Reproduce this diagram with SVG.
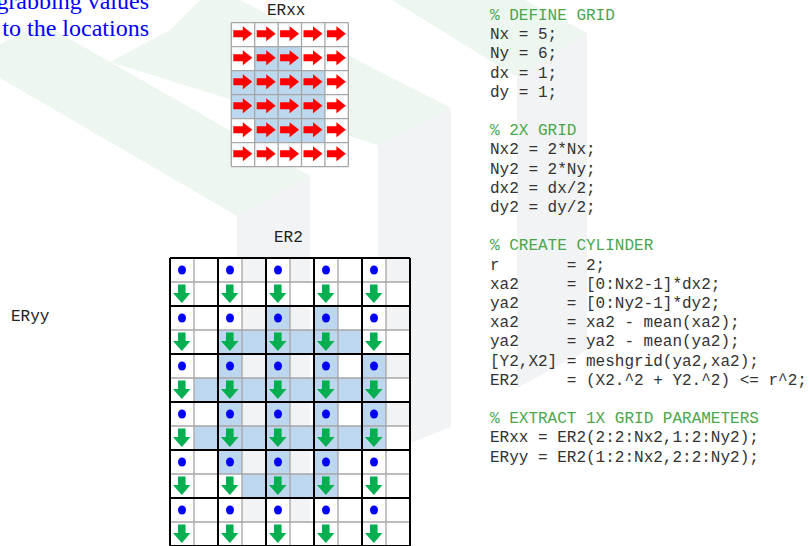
<svg xmlns="http://www.w3.org/2000/svg" width="809" height="546" viewBox="0 0 809 546">
<defs>
<style>
.wmg{fill:#EEF6F0}
.wms{fill:#F2F3F5}
.wc{fill:#FFFFFF}
.on{fill:#BDD7EE}
.gl{stroke:#A6A6A6;stroke-width:1.3;fill:none}
.bl{stroke:#000000;stroke-width:2;fill:none}
.lbl{font-family:"Liberation Mono","Courier New",monospace;font-size:16px;fill:#222222}
.code{font-family:"Liberation Mono","Courier New",monospace;font-size:16px;fill:#333333}
.cm{fill:#4CA64C}
.title{font-family:"Liberation Serif","Times New Roman",serif;font-size:24px;fill:#0000FF}
</style>
<path id="ra" d="M2,7.5 H11.5 V3.5 L21,11 L11.5,18.5 V14.5 H2 Z" fill="#FF0000"/>
<path id="da" d="M8,2.5 H15.6 V11 H20.5 L11.8,21 L3,11 H8 Z" fill="#00B050"/>
<ellipse id="dot" cx="12" cy="12" rx="4" ry="4.5" fill="#0000FF"/>
</defs>
<rect width="809" height="546" fill="#FFFFFF"/>
<g id="watermark">
<polygon class="wmg" points="0,44 0,78 237,216 310,176 42,23"/>
<polygon class="wmg" points="110,62 378,145 451,108 240,0 200,0 170,30"/>
<polygon class="wmg" points="392,0 517,77 587,33 525,0"/>
<polygon class="wms" points="237,216 310,176 310,546 237,546"/>
<polygon class="wms" points="378,145 451,108 451,427 378,456"/>
<polygon class="wms" points="517,77 587,33 587,350 517,388"/>
</g>
<g id="title">
<text class="title" x="149" y="9" text-anchor="end">grabbing values</text>
<text class="title" x="149" y="36" text-anchor="end">to the locations</text>
</g>
<g id="ERxx">
<text class="lbl" x="267" y="15">ERxx</text>
<g transform="translate(231.3,22.7)">
<rect class="wc" x="0" y="0" width="117" height="144"/>
<rect class="on" x="23.4" y="24" width="46.8" height="24"/>
<rect class="on" x="0" y="48" width="93.6" height="48"/>
<rect class="on" x="23.4" y="96" width="70.2" height="24"/>
<path class="gl" d="M0,0V144M23.4,0V144M46.8,0V144M70.2,0V144M93.6,0V144M117,0V144M0,0H117M0,24H117M0,48H117M0,72H117M0,96H117M0,120H117M0,144H117"/>
<use href="#ra" x="0" y="0"/><use href="#ra" x="23.4" y="0"/><use href="#ra" x="46.8" y="0"/><use href="#ra" x="70.2" y="0"/><use href="#ra" x="93.6" y="0"/>
<use href="#ra" x="0" y="24"/><use href="#ra" x="23.4" y="24"/><use href="#ra" x="46.8" y="24"/><use href="#ra" x="70.2" y="24"/><use href="#ra" x="93.6" y="24"/>
<use href="#ra" x="0" y="48"/><use href="#ra" x="23.4" y="48"/><use href="#ra" x="46.8" y="48"/><use href="#ra" x="70.2" y="48"/><use href="#ra" x="93.6" y="48"/>
<use href="#ra" x="0" y="72"/><use href="#ra" x="23.4" y="72"/><use href="#ra" x="46.8" y="72"/><use href="#ra" x="70.2" y="72"/><use href="#ra" x="93.6" y="72"/>
<use href="#ra" x="0" y="96"/><use href="#ra" x="23.4" y="96"/><use href="#ra" x="46.8" y="96"/><use href="#ra" x="70.2" y="96"/><use href="#ra" x="93.6" y="96"/>
<use href="#ra" x="0" y="120"/><use href="#ra" x="23.4" y="120"/><use href="#ra" x="46.8" y="120"/><use href="#ra" x="70.2" y="120"/><use href="#ra" x="93.6" y="120"/>
</g>
</g>
<g id="ERyy">
<text class="lbl" x="11" y="321">ERyy</text>
</g>
<g id="ER2">
<text class="lbl" x="274" y="242">ER2</text>
<g transform="translate(170,258)">
<rect class="wc" x="0" y="0" width="24" height="24"/><rect class="wc" x="48" y="0" width="24" height="24"/><rect class="wc" x="96" y="0" width="24" height="24"/><rect class="wc" x="144" y="0" width="24" height="24"/><rect class="wc" x="192" y="0" width="24" height="24"/>
<rect class="wc" x="0" y="24" width="240" height="24"/>
<rect class="wc" x="0" y="48" width="24" height="24"/><rect class="wc" x="48" y="48" width="24" height="24"/><rect class="wc" x="192" y="48" width="24" height="24"/>
<rect class="on" x="96" y="48" width="24" height="24"/><rect class="on" x="144" y="48" width="24" height="24"/>
<rect class="wc" x="0" y="72" width="240" height="24"/>
<rect class="on" x="48" y="72" width="144" height="24"/>
<rect class="wc" x="0" y="96" width="24" height="24"/>
<rect class="on" x="48" y="96" width="24" height="24"/><rect class="on" x="96" y="96" width="24" height="24"/><rect class="on" x="144" y="96" width="24" height="24"/><rect class="on" x="192" y="96" width="24" height="24"/>
<rect class="wc" x="0" y="120" width="240" height="24"/>
<rect class="on" x="24" y="120" width="192" height="24"/>
<rect class="wc" x="0" y="144" width="24" height="24"/>
<rect class="on" x="48" y="144" width="24" height="24"/><rect class="on" x="96" y="144" width="24" height="24"/><rect class="on" x="144" y="144" width="24" height="24"/><rect class="on" x="192" y="144" width="24" height="24"/>
<rect class="wc" x="0" y="168" width="240" height="24"/>
<rect class="on" x="24" y="168" width="192" height="24"/>
<rect class="wc" x="0" y="192" width="24" height="24"/><rect class="wc" x="192" y="192" width="24" height="24"/>
<rect class="on" x="48" y="192" width="24" height="24"/><rect class="on" x="96" y="192" width="24" height="24"/><rect class="on" x="144" y="192" width="24" height="24"/>
<rect class="wc" x="0" y="216" width="240" height="24"/>
<rect class="on" x="72" y="216" width="96" height="24"/>
<rect class="wc" x="0" y="240" width="24" height="24"/><rect class="wc" x="48" y="240" width="24" height="24"/><rect class="wc" x="96" y="240" width="24" height="24"/><rect class="wc" x="144" y="240" width="24" height="24"/><rect class="wc" x="192" y="240" width="24" height="24"/>
<rect class="wc" x="0" y="264" width="240" height="24"/>
<path class="gl" d="M24,0V288M72,0V288M120,0V288M168,0V288M216,0V288M0,24H240M0,72H240M0,120H240M0,168H240M0,216H240M0,264H240"/>
<path class="bl" d="M0,0V288M48,0V288M96,0V288M144,0V288M192,0V288M240,0V288M0,0H240M0,48H240M0,96H240M0,144H240M0,192H240M0,240H240M0,288H240"/>
<use href="#dot" x="0" y="0"/><use href="#dot" x="48" y="0"/><use href="#dot" x="96" y="0"/><use href="#dot" x="144" y="0"/><use href="#dot" x="192" y="0"/>
<use href="#dot" x="0" y="48"/><use href="#dot" x="48" y="48"/><use href="#dot" x="96" y="48"/><use href="#dot" x="144" y="48"/><use href="#dot" x="192" y="48"/>
<use href="#dot" x="0" y="96"/><use href="#dot" x="48" y="96"/><use href="#dot" x="96" y="96"/><use href="#dot" x="144" y="96"/><use href="#dot" x="192" y="96"/>
<use href="#dot" x="0" y="144"/><use href="#dot" x="48" y="144"/><use href="#dot" x="96" y="144"/><use href="#dot" x="144" y="144"/><use href="#dot" x="192" y="144"/>
<use href="#dot" x="0" y="192"/><use href="#dot" x="48" y="192"/><use href="#dot" x="96" y="192"/><use href="#dot" x="144" y="192"/><use href="#dot" x="192" y="192"/>
<use href="#dot" x="0" y="240"/><use href="#dot" x="48" y="240"/><use href="#dot" x="96" y="240"/><use href="#dot" x="144" y="240"/><use href="#dot" x="192" y="240"/>
<use href="#da" x="0" y="24"/><use href="#da" x="48" y="24"/><use href="#da" x="96" y="24"/><use href="#da" x="144" y="24"/><use href="#da" x="192" y="24"/>
<use href="#da" x="0" y="72"/><use href="#da" x="48" y="72"/><use href="#da" x="96" y="72"/><use href="#da" x="144" y="72"/><use href="#da" x="192" y="72"/>
<use href="#da" x="0" y="120"/><use href="#da" x="48" y="120"/><use href="#da" x="96" y="120"/><use href="#da" x="144" y="120"/><use href="#da" x="192" y="120"/>
<use href="#da" x="0" y="168"/><use href="#da" x="48" y="168"/><use href="#da" x="96" y="168"/><use href="#da" x="144" y="168"/><use href="#da" x="192" y="168"/>
<use href="#da" x="0" y="216"/><use href="#da" x="48" y="216"/><use href="#da" x="96" y="216"/><use href="#da" x="144" y="216"/><use href="#da" x="192" y="216"/>
<use href="#da" x="0" y="264"/><use href="#da" x="48" y="264"/><use href="#da" x="96" y="264"/><use href="#da" x="144" y="264"/><use href="#da" x="192" y="264"/>
</g>
</g>
<g id="code" class="code">
<text class="cm" x="490" y="20">% DEFINE GRID</text>
<text x="490" y="39.2">Nx = 5;</text>
<text x="490" y="58.4">Ny = 6;</text>
<text x="490" y="77.6">dx = 1;</text>
<text x="490" y="96.8">dy = 1;</text>
<text class="cm" x="490" y="135.2">% 2X GRID</text>
<text x="490" y="154.4">Nx2 = 2*Nx;</text>
<text x="490" y="173.6">Ny2 = 2*Ny;</text>
<text x="490" y="192.8">dx2 = dx/2;</text>
<text x="490" y="212">dy2 = dy/2;</text>
<text class="cm" x="490" y="250.4">% CREATE CYLINDER</text>
<text x="490" y="269.6">r</text><text x="566.8" y="269.6">= 2;</text>
<text x="490" y="288.8">xa2</text><text x="566.8" y="288.8">= [0:Nx2-1]*dx2;</text>
<text x="490" y="308">ya2</text><text x="566.8" y="308">= [0:Ny2-1]*dy2;</text>
<text x="490" y="327.2">xa2</text><text x="566.8" y="327.2">= xa2 - mean(xa2);</text>
<text x="490" y="346.4">ya2</text><text x="566.8" y="346.4">= ya2 - mean(ya2);</text>
<text x="490" y="365.6">[Y2,X2] = meshgrid(ya2,xa2);</text>
<text x="490" y="384.8">ER2</text><text x="566.8" y="384.8">= (X2.^2 + Y2.^2) &lt;= r^2;</text>
<text class="cm" x="490" y="423.2">% EXTRACT 1X GRID PARAMETERS</text>
<text x="490" y="442.4">ERxx = ER2(2:2:Nx2,1:2:Ny2);</text>
<text x="490" y="461.6">ERyy = ER2(1:2:Nx2,2:2:Ny2);</text>
</g>
</svg>
